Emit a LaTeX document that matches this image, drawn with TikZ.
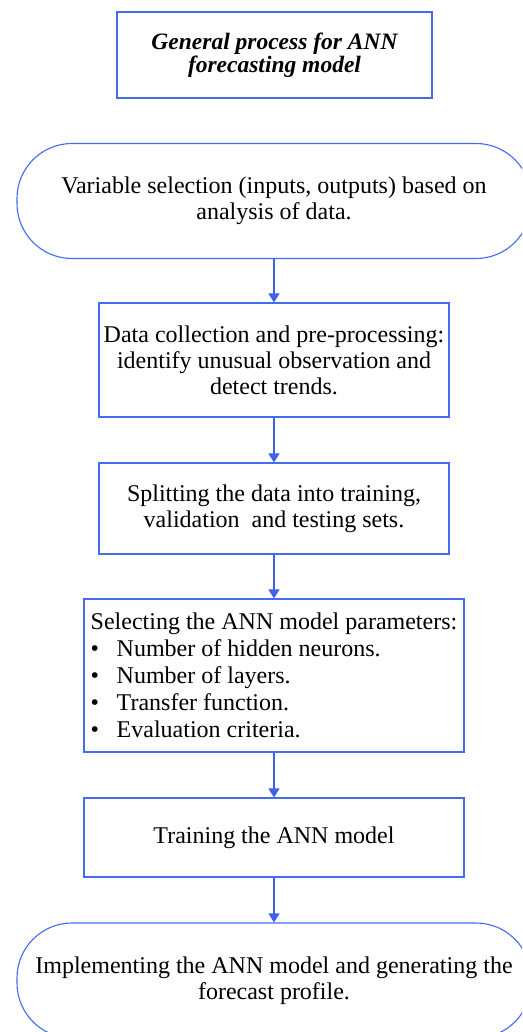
\documentclass[tikz,border=0pt]{standalone}
\usepackage{fontspec}
\setmainfont{Liberation Serif}
\usetikzlibrary{arrows.meta}
\definecolor{boxblue}{RGB}{68,108,240}
\definecolor{arrblue}{RGB}{64,96,230}
\newcommand{\bitem}{\makebox[26pt][l]{\textbullet}}
\begin{document}
\begin{tikzpicture}[x=1pt,y=-1pt,
  box/.style={draw=boxblue, line width=1.1pt, rectangle, align=center, inner sep=0pt, font=\fontsize{24}{26}\selectfont},
  term/.style={box, rounded corners=55pt},
  arr/.style={draw=arrblue, line width=1.1pt, -{Triangle[width=11pt,length=9pt]}}]
\useasboundingbox (0,0) rectangle (522,1032);
\clip (0,0) rectangle (522,1032);
\fill[white] (0,0) rectangle (522,1032);
\node[box, minimum width=315, minimum height=86, font=\fontsize{23.5}{23.5}\selectfont\bfseries\itshape] (title) at (274.5,55) {General process for ANN\\forecasting model};
\node[term, minimum width=514, minimum height=115] (b1) at (274,201) {Variable selection (inputs, outputs) based on\\analysis of data.};
\node[box, minimum width=350, minimum height=114] (b2) at (274,360) {Data collection and pre-processing:\\identify unusual observation and\\detect trends.};
\node[box, minimum width=350, minimum height=91] (b3) at (274,508.5) {Splitting the data into training,\\validation\ \ and testing sets.};
\node[box, minimum width=380, minimum height=153, align=left, font=\fontsize{24}{27}\selectfont] (b4) at (274,675.5) {Selecting the ANN model parameters:\\
\bitem Number of hidden neurons.\\
\bitem Number of layers.\\
\bitem Transfer function.\\
\bitem Evaluation criteria.};
\node[box, minimum width=380, minimum height=79] (b5) at (274,837.5) {Training the ANN model};
\node[term, minimum width=514, minimum height=115] (b6) at (274,980.5) {Implementing the ANN model and generating the\\forecast profile.};
\draw[arr] (b1) -- (b2);
\draw[arr] (b2) -- (b3);
\draw[arr] (b3) -- (b4);
\draw[arr] (b4) -- (b5);
\draw[arr] (b5) -- (b6);
\end{tikzpicture}
\end{document}
